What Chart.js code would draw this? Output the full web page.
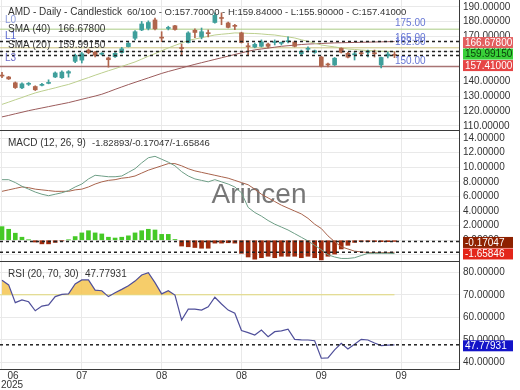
<!DOCTYPE html>
<html lang="ja">
<head>
<meta charset="utf-8">
<title>AMD - Daily - Candlestick</title>
<script src="https://cdn.jsdelivr.net/npm/chart.js@4.4.1/dist/chart.umd.min.js"></script>
<style>
  html, body { margin: 0; padding: 0; background: #fff; }
  #wrap { position: relative; width: 520px; height: 390px; overflow: hidden; }
  #wrap canvas { position: absolute; left: 0; }
</style>
</head>
<body>
<div id="wrap">
  <canvas id="priceChart" width="520" height="131" style="top:0"></canvas>
  <canvas id="macdChart" width="520" height="131" style="top:131px"></canvas>
  <canvas id="rsiChart" width="520" height="128" style="top:262px"></canvas>
</div>
<script>
// ====================
// データ定義
// ====================
const monthLabels = ['06', '07', '08', '08', '09', '09'];
const monthTickBars = [0, 12, 24, 36, 48, 60];
const yearLabel = '2025';

const openPrices = [
  143.8, 142.9, 139.0, 135.6, 138.0, 136.5, 137.3, 138.6, 142.9, 142.4,
  145.5, 153.4, 154.2, 160.9, 159.5, 158.2, 155.7, 156.5, 159.3, 163.3,
  168.9, 174.5, 175.5, 181.2, 169.5, 175.5, 177.3, 162.5, 166.0, 174.3,
  169.8, 172.5, 179.5, 182.6, 179.2, 177.2, 172.5, 163.5, 163.0, 163.5,
  165.0, 166.0, 165.5, 166.6, 166.4, 158.5, 161.5, 159.4, 156.3, 151.2,
  151.0, 162.2, 158.8, 157.8, 159.0, 159.5, 158.8, 151.0, 157.0, 157.7
];
const highPrices = [
  146.0, 143.3, 139.6, 139.0, 139.2, 137.0, 138.7, 141.0, 146.3, 147.0,
  147.2, 158.3, 159.4, 161.6, 160.2, 159.2, 156.3, 159.3, 162.8, 166.6,
  174.0, 180.2, 180.6, 182.5, 173.3, 177.0, 177.6, 165.0, 173.3, 175.3,
  175.8, 174.5, 186.0, 186.0, 179.8, 178.2, 173.0, 165.7, 165.7, 167.8,
  165.7, 167.8, 166.4, 169.8, 167.0, 161.0, 163.1, 161.0, 156.8, 152.3,
  156.0, 162.5, 159.4, 159.7, 159.7, 161.0, 161.0, 156.3, 159.7, 159.84
];
const lowPrices = [
  142.5, 141.2, 135.2, 135.0, 137.2, 133.8, 136.9, 138.3, 142.5, 142.0,
  142.8, 152.5, 152.3, 158.5, 156.3, 157.6, 149.5, 156.0, 158.9, 163.0,
  167.8, 174.0, 174.5, 174.5, 166.6, 174.5, 174.3, 157.7, 165.7, 169.3,
  168.5, 169.8, 179.0, 178.0, 175.8, 174.7, 165.7, 157.7, 162.5, 163.0,
  162.4, 164.4, 164.4, 165.7, 163.1, 157.7, 159.7, 158.8, 149.6, 149.6,
  150.6, 159.0, 155.7, 154.3, 157.7, 156.3, 156.3, 149.0, 155.7, 155.9
];
const closePrices = [
  143.5, 141.6, 135.8, 138.3, 138.3, 134.3, 137.8, 139.1, 145.6, 146.2,
  146.5, 157.5, 158.5, 159.2, 157.5, 158.5, 154.5, 158.8, 161.8, 165.5,
  173.3, 178.5, 179.5, 175.2, 169.0, 176.0, 174.8, 162.0, 172.5, 172.8,
  173.3, 172.0, 184.3, 182.2, 176.2, 176.9, 166.0, 163.2, 164.8, 166.5,
  163.5, 166.3, 165.7, 167.2, 163.5, 160.2, 161.8, 160.5, 150.2, 151.0,
  155.5, 159.5, 156.2, 158.1, 158.5, 159.8, 158.5, 156.0, 158.3, 157.41
];
const sma20Values = [
  124.5, 126.0, 127.6, 129.1, 130.7, 132.2, 133.4, 134.5, 135.6, 136.8,
  137.9, 139.4, 141.0, 142.5, 144.1, 145.6, 147.1, 148.5, 150.0, 151.5,
  153.0, 154.9, 156.8, 158.6, 160.5, 162.4, 164.1, 165.7, 167.4, 168.4,
  169.3, 170.2, 171.1, 171.6, 172.0, 172.5, 172.4, 172.2, 172.1, 171.8,
  171.4, 171.1, 170.4, 169.8, 169.1, 167.9, 166.8, 165.6, 164.4, 163.7,
  163.1, 162.4, 161.7, 161.4, 161.0, 160.7, 160.4, 160.2, 160.1, 159.9915
];
const sma40Values = [
  116.1, 117.1, 118.2, 119.2, 120.3, 121.2, 122.1, 123.0, 123.9, 124.8,
  125.7, 126.8, 127.9, 129.0, 130.1, 131.3, 132.9, 134.6, 136.2, 137.8,
  139.3, 140.8, 142.3, 143.8, 145.3, 146.6, 147.8, 149.0, 150.2, 151.4,
  152.5, 153.6, 154.7, 155.8, 156.9, 158.0, 159.1, 160.2, 161.1, 161.7,
  162.3, 162.9, 163.5, 163.9, 164.3, 164.7, 165.0, 165.2, 165.4, 165.6,
  165.8, 165.9, 166.0, 166.1, 166.2, 166.3, 166.4, 166.5, 166.6, 166.678
];
const macdValues = [
  8.3, 8.3, 7.9, 7.4, 7.0, 6.6, 6.3, 6.1, 6.3, 6.5,
  6.8, 7.3, 7.7, 8.4, 8.9, 8.8, 8.7, 8.7, 8.8, 9.3,
  9.8, 10.6, 11.3, 11.5, 11.1, 10.7, 10.2, 9.4, 8.8, 8.4,
  8.2, 8.0, 8.3, 8.0, 7.7, 7.3, 6.5, 4.5, 3.8, 3.3,
  2.7, 2.2, 1.8, 1.4, 0.9, 0.4, -0.1, -0.7, -1.3, -2.0,
  -2.3, -2.5, -2.5, -2.4, -2.1, -1.8, -1.8, -1.8, -1.8, -1.82893
];
const signalValues = [
  6.7, 6.9, 7.1, 7.3, 7.2, 7.0, 6.9, 6.8, 6.7, 6.7,
  6.7, 6.9, 7.0, 7.3, 7.7, 8.0, 8.2, 8.3, 8.5, 8.6,
  8.8, 9.2, 9.6, 9.9, 10.2, 10.5, 10.5, 10.2, 9.8, 9.5,
  9.3, 9.1, 8.9, 8.7, 8.5, 8.2, 7.9, 7.6, 7.0, 6.3,
  5.8, 5.3, 4.8, 4.4, 4.0, 3.6, 3.0, 2.2, 1.6, 0.6,
  -0.2, -0.9, -1.2, -1.5, -1.6, -1.7, -1.7, -1.7, -1.7, -1.65846
];
const histValues = [
  1.86, 1.5, 0.96, 0.41, 0.05, -0.25, -0.5, -0.5, -0.3, -0.1,
  0.05, 0.5, 1.0, 1.3, 1.0, 0.86, 0.41, 0.3, 0.41, 0.6,
  1.0, 1.3, 1.5, 1.4, 0.8, 0.8, 0.1, -0.8, -0.9, -1.0,
  -1.1, -1.1, -0.4, -0.4, -0.35, -0.4, -1.8, -2.3, -2.6, -2.4,
  -2.2, -2.4, -2.2, -2.2, -2.2, -2.4, -2.2, -2.4, -2.7, -2.2,
  -1.9, -1.2, -0.7, -0.3, -0.2, -0.2, -0.2, -0.2, -0.2, -0.17047
];
const rsiValues = [
  76.5, 74.4, 66.5, 67.7, 66.9, 62.9, 65.0, 65.5, 69.2, 70.2,
  70.4, 74.8, 76.6, 76.6, 72.1, 71.8, 69.2, 70.9, 72.4, 74.0,
  76.1, 78.8, 79.8, 75.4, 70.4, 71.8, 69.9, 58.8, 63.6, 63.6,
  63.2, 64.7, 68.9, 65.9, 63.2, 61.8, 54.1, 53.2, 52.1, 54.3,
  51.4, 53.6, 54.0, 54.7, 50.2, 50.0, 49.9, 49.6, 41.8, 42.0,
  45.5, 48.4, 45.9, 48.0, 50.2, 49.9, 48.6, 47.4, 47.6, 47.77931
];
const priceLevels = [175, 165, 162.5, 150];
const rsiUpper = 70;

// ====================
// 表示設定
// ====================
const FONT = '"Liberation Sans", Arial, sans-serif';
const GRID_COLOR = '#e9e9e9';
const AXIS_COLOR = '#3a3a3a';
const TEXT_COLOR = '#333333';
const X_MIN = -0.3;
const X_MAX = 68.7;
const AXIS_WIDTH = 61;
const UP_COLOR = '#3f9f9b';
const DOWN_COLOR = '#b0654c';

Chart.defaults.font.family = FONT;

const getElem = id => document.getElementById(id);
const lastOf = arr => arr[arr.length - 1];
const toPoints = values => values.map((v, i) => ({ x: i, y: v }));
const flatLine = (value, from = X_MIN, to = X_MAX) => [{ x: from, y: value }, { x: to, y: value }];
const lastBar = closePrices.length - 1;

// テキスト描画
function drawText(ctx, text, x, y, color, size = 10, align = 'left') {
  ctx.font = `${size}px ${FONT}`;
  ctx.fillStyle = color;
  ctx.textAlign = align;
  ctx.textBaseline = 'middle';
  ctx.fillText(text, x, y);
}

// 右軸の値ラベル（重なる場合は下へずらす）
function drawTags(ctx, scale, tags) {
  let prev = -Infinity;
  tags.forEach(t => {
    const y = Math.max(scale.getPixelForValue(t.value) + 1, prev + 11.5);
    ctx.fillStyle = t.bg;
    ctx.fillRect(463, y - 5.5, 50, 11);
    drawText(ctx, t.value.toFixed(5), 465, y + 0.5, t.fg, 10);
    prev = y;
  });
}

function dashedLine(value) {
  return { type: 'line', data: flatLine(value), borderColor: '#222', borderWidth: 1.5,
           borderDash: [3, 3], pointRadius: 0, order: -1 };
}

function levelLine(value, color, width) {
  return { type: 'line', data: flatLine(value), borderColor: color, borderWidth: width,
           pointRadius: 0, order: 6 };
}

function baseOptions(yMin, yMax, step, bottomPad) {
  return {
    responsive: false,
    animation: false,
    events: [],
    layout: { padding: { left: 0, right: 0, top: 0, bottom: bottomPad } },
    plugins: { legend: { display: false }, tooltip: { enabled: false } },
    scales: {
      x: {
        type: 'linear', min: X_MIN, max: X_MAX, offset: false,
        afterBuildTicks: s => { s.ticks = monthTickBars.map(v => ({ value: v })); },
        afterFit: s => { s.height = 0; s.paddingLeft = 0; s.paddingRight = 0; },
        ticks: { display: false },
        grid: { color: GRID_COLOR, drawTicks: false, offset: false },
        border: { display: true, color: AXIS_COLOR }
      },
      y: {
        position: 'right', min: yMin, max: yMax,
        // ラベル分の余白を取らず、プロット領域をパネル全体に広げる
        afterFit: s => { s.width = AXIS_WIDTH; s.paddingTop = 0; s.paddingBottom = 0; },
        ticks: {
          stepSize: step, includeBounds: false, autoSkip: false, padding: 4,
          color: TEXT_COLOR, font: { size: 10, family: FONT },
          callback: v => v.toFixed(5)
        },
        grid: { color: GRID_COLOR, drawTicks: false },
        border: { display: true, color: AXIS_COLOR }
      }
    }
  };
}

// ====================
// ローソク足チャート
// ====================
const candleColors = closePrices.map((c, i) => (c >= openPrices[i] ? UP_COLOR : DOWN_COLOR));

const priceTextPlugin = {
  id: 'priceText',
  afterDraw(chart) {
    const { ctx } = chart;
    const y = chart.scales.y;
    ctx.save();
    priceLevels.forEach(lv => {
      drawText(ctx, lv.toFixed(2), 395, y.getPixelForValue(lv) - 5.5, '#6676d4', 10);
    });
    drawText(ctx, 'L0', 5, 20.7, '#8c9bdc');
    drawText(ctx, 'L1', 5, 36.7, '#5867d0');
    drawText(ctx, 'L3', 5, 58.3, '#6c6cc8');
    drawText(ctx, 'AMD - Daily - Candlestick', 8, 12.7, TEXT_COLOR, 10);
    const ohlc = `${closePrices.length}/100 - O:${lastOf(openPrices).toFixed(5)} - H:${lastOf(highPrices).toFixed(5)}` +
      ` - L:${lastOf(lowPrices).toFixed(5)} - C:${lastOf(closePrices).toFixed(5)}`;
    drawText(ctx, ohlc, 127, 12.7, TEXT_COLOR, 9.5);
    drawText(ctx, 'SMA (40)', 8, 29.3, TEXT_COLOR, 10);
    drawText(ctx, lastOf(sma40Values).toFixed(5), 58, 29.3, TEXT_COLOR, 10);
    drawText(ctx, 'SMA (20)', 8, 45.7, TEXT_COLOR, 10);
    drawText(ctx, lastOf(sma20Values).toFixed(5), 58, 45.7, TEXT_COLOR, 10);
    drawTags(ctx, y, [
      { value: lastOf(sma40Values), bg: '#e35f5f', fg: '#ffffff' },
      { value: lastOf(sma20Values), bg: '#38d038', fg: '#0b3d0b' },
      { value: lastOf(closePrices), bg: '#e64545', fg: '#ffffff' }
    ]);
    ctx.restore();
  }
};

new Chart(getElem('priceChart'), {
  type: 'bar',
  data: {
    datasets: [
      dashedLine(lastOf(sma40Values)),
      dashedLine(lastOf(sma20Values)),
      dashedLine(lastOf(closePrices)),
      { type: 'bar', data: closePrices.map((c, i) => ({ x: i, y: [openPrices[i], c] })),
        backgroundColor: candleColors, barThickness: 4, minBarLength: 1, grouped: false, order: 1 },
      { type: 'bar', data: closePrices.map((c, i) => ({ x: i, y: [lowPrices[i], highPrices[i]] })),
        backgroundColor: candleColors, barThickness: 1, grouped: false, order: 2 },
      { type: 'line', data: toPoints(sma20Values), borderColor: '#bccf8e', borderWidth: 1, pointRadius: 0, order: 3 },
      { type: 'line', data: toPoints(sma40Values), borderColor: '#9b5b5b', borderWidth: 1, pointRadius: 0, order: 3 },
      levelLine(priceLevels[0], '#aacb84', 1),
      levelLine(priceLevels[2], '#cbc27e', 1),
      levelLine(priceLevels[3], '#a87474', 1.5)
    ]
  },
  options: baseOptions(107.3, 194.6, 10, 1),
  plugins: [priceTextPlugin]
});

// ====================
// MACD
// ====================
const macdTextPlugin = {
  id: 'macdText',
  beforeDatasetsDraw(chart) {
    const { ctx } = chart;
    ctx.save();
    ctx.font = `28px ${FONT}`;
    ctx.fillStyle = 'rgba(95,95,95,0.85)';
    ctx.textAlign = 'center';
    ctx.textBaseline = 'alphabetic';
    ctx.fillText('Arincen', 259, 72);
    ctx.restore();
  },
  afterDraw(chart) {
    const { ctx } = chart;
    ctx.save();
    drawText(ctx, 'MACD (12, 26, 9)', 8, 12.3, TEXT_COLOR, 10);
    const vals = [lastOf(macdValues), lastOf(histValues), lastOf(signalValues)].map(v => v.toFixed(5)).join('/');
    drawText(ctx, vals, 92, 12.3, TEXT_COLOR, 9.5);
    drawTags(ctx, chart.scales.y, [
      { value: lastOf(histValues), bg: '#8e2100', fg: '#ffffff' },
      { value: lastOf(signalValues), bg: '#e3261a', fg: '#ffffff' }
    ]);
    ctx.restore();
  }
};

new Chart(getElem('macdChart'), {
  type: 'bar',
  data: {
    datasets: [
      dashedLine(lastOf(histValues)),
      dashedLine(lastOf(signalValues)),
      { type: 'line', data: toPoints(macdValues), borderColor: '#6e9e86', borderWidth: 1, pointRadius: 0, order: 1 },
      { type: 'line', data: toPoints(signalValues), borderColor: '#a8634c', borderWidth: 1, pointRadius: 0, order: 1 },
      { type: 'bar', data: toPoints(histValues),
        backgroundColor: histValues.map(v => (v >= 0 ? '#45c926' : '#9e2a0c')),
        barThickness: 4, grouped: false, order: 2 }
    ]
  },
  options: baseOptions(-2.85, 14.97, 2, 1),
  plugins: [macdTextPlugin]
});

// ====================
// RSI
// ====================
const rsiTextPlugin = {
  id: 'rsiText',
  afterDraw(chart) {
    const { ctx, chartArea } = chart;
    ctx.save();
    drawText(ctx, 'RSI (20, 70, 30)', 8, 12.3, TEXT_COLOR, 10);
    drawText(ctx, lastOf(rsiValues).toFixed(5), 85, 12.3, TEXT_COLOR, 10);
    drawTags(ctx, chart.scales.y, [{ value: lastOf(rsiValues), bg: '#1414c8', fg: '#ffffff' }]);
    const xs = chart.scales.x;
    monthLabels.forEach((lbl, i) => {
      const px = Math.max(xs.getPixelForValue(monthTickBars[i]), 13);
      drawText(ctx, lbl, px, chartArea.bottom + 7, TEXT_COLOR, 10, 'center');
    });
    drawText(ctx, yearLabel, 12, chartArea.bottom + 16, TEXT_COLOR, 10, 'center');
    ctx.restore();
  }
};

new Chart(getElem('rsiChart'), {
  type: 'line',
  data: {
    datasets: [
      dashedLine(lastOf(rsiValues)),
      { data: toPoints(rsiValues), borderColor: '#4f4f9a', borderWidth: 1.2, pointRadius: 0, order: 1,
        fill: { target: { value: rsiUpper }, above: 'rgba(245,196,80,0.85)', below: 'rgba(0,0,0,0)' } },
      { data: flatLine(rsiUpper, X_MIN, lastBar), borderColor: '#dede86', borderWidth: 1, pointRadius: 0, order: 2 }
    ]
  },
  options: baseOptions(37.02, 84.58, 10, 21),
  plugins: [rsiTextPlugin]
});
</script>
</body>
</html>
